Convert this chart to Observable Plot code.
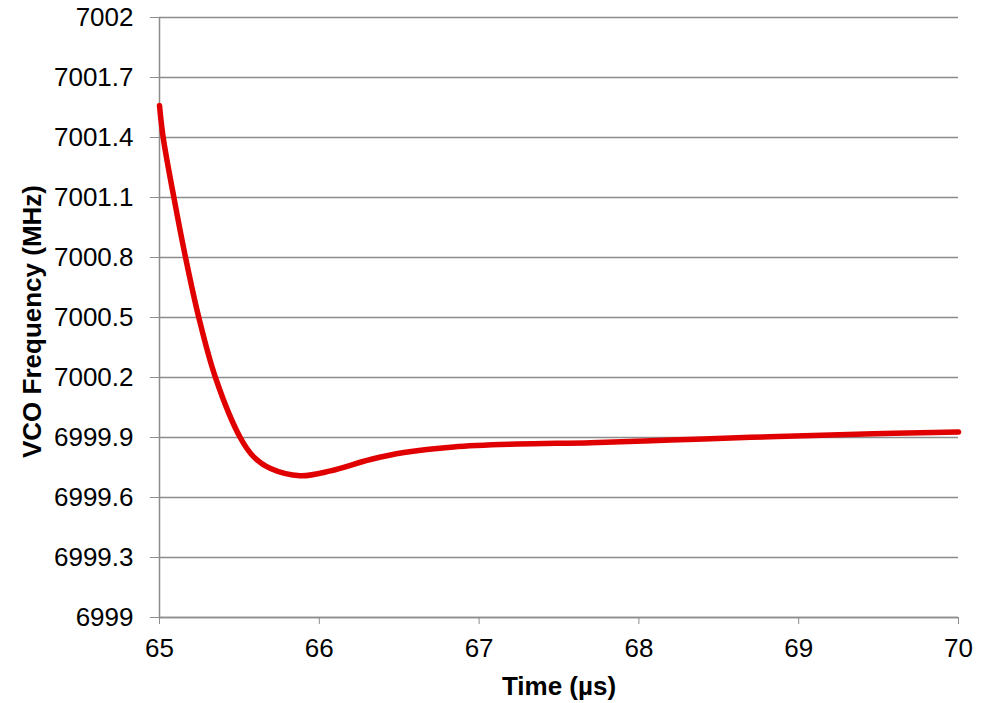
<!DOCTYPE html>
<html><head><meta charset="utf-8">
<script src="https://cdn.jsdelivr.net/npm/d3@7"></script>
<script src="https://cdn.jsdelivr.net/npm/@observablehq/plot@0.6"></script>
<style>html,body{margin:0;padding:0;background:#fff}</style>
</head><body><div id="chart"></div>
<script>
const time = [65.00, 65.023, 65.09, 65.163, 65.246, 65.35, 65.505, 65.59, 65.695, 65.88, 66.07, 66.32, 66.53, 66.84, 67.24, 67.7, 68.2, 68.7, 69.2, 69.6, 70.0];
const freq = [7001.56, 7001.4, 7001.1, 7000.8, 7000.5, 7000.2, 6999.9, 6999.803, 6999.745, 6999.709, 6999.733, 6999.79, 6999.825, 6999.853, 6999.867, 6999.874, 6999.887, 6999.901, 6999.913, 6999.921, 6999.928];
const yTicks = [6999, 6999.3, 6999.6, 6999.9, 7000.2, 7000.5, 7000.8, 7001.1, 7001.4, 7001.7, 7002];
const xTicks = [65, 66, 67, 68, 69, 70];
const data = time.map((t, i) => ({t, f: freq[i]}));
const fmt = d => String(+(+d).toFixed(1));
const grid = "#8c8c8c";
const chart = Plot.plot({
  width: 994, height: 703,
  marginLeft: 159, marginRight: 36, marginTop: 17, marginBottom: 86,
  style: {fontFamily: "'Liberation Sans', Arial, sans-serif", fontSize: "26px", color: "#000", background: "#fff"},
  x: {domain: [65, 70], ticks: xTicks, tickFormat: fmt},
  y: {domain: [6999, 7002], ticks: yTicks, tickFormat: fmt},
  marks: [
    Plot.gridY(yTicks, {stroke: grid, strokeOpacity: 1, strokeWidth: 1.5}),
    Plot.ruleX([65], {stroke: grid, strokeWidth: 1.5}),
    Plot.ruleY([6999], {stroke: grid, strokeWidth: 1.5}),
    Plot.axisY(yTicks, {tickFormat: fmt, tickSize: 9, tickPadding: 17, stroke: grid, strokeOpacity: 1, fontSize: 26, label: null}),
    Plot.axisX(xTicks, {tickFormat: fmt, tickSize: 7, tickPadding: 14, stroke: grid, strokeOpacity: 1, fontSize: 26, label: null}),
    Plot.text(["Time (µs)"], {x: 67.5, y: 6999, dy: 69, fontWeight: "bold", fontSize: 26}),
    Plot.text(["VCO Frequency (MHz)"], {x: 65, y: 7000.48, rotate: -90, dx: -127, fontWeight: "bold", fontSize: 26}),
    Plot.line(data, {x: "t", y: "f", stroke: "#e00000", strokeWidth: 5.5, curve: "catmull-rom"})
  ]
});
document.getElementById("chart").appendChild(chart);
</script></body></html>
